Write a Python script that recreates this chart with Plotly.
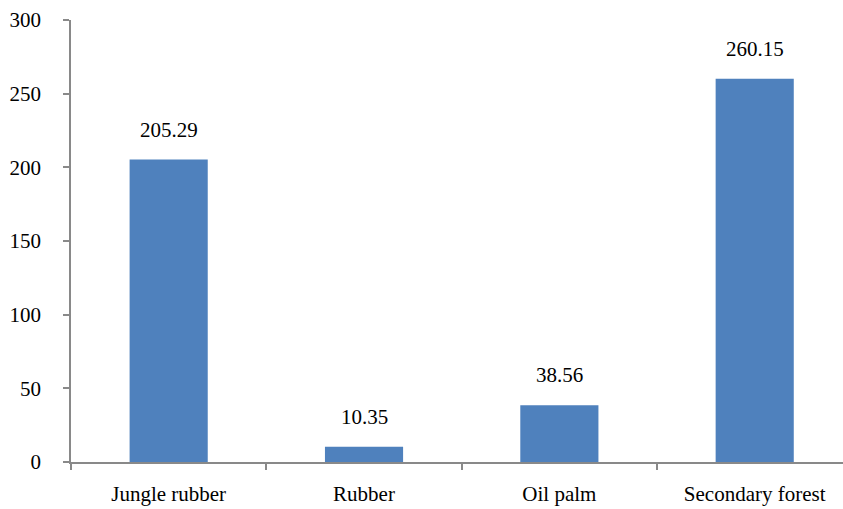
import plotly.graph_objects as go

categories = ["Jungle rubber", "Rubber", "Oil palm", "Secondary forest"]
values = [205.29, 10.35, 38.56, 260.15]
value_labels = ["205.29", "10.35", "38.56", "260.15"]
y_ticks = [0, 50, 100, 150, 200, 250, 300]

FONT = "Liberation Serif"

fig = go.Figure()
fig.add_trace(go.Bar(
    x=categories, y=values, width=0.4,
    marker=dict(color="#4F81BD", line=dict(width=0)),
    hoverinfo="skip",
))
for c, v, t in zip(categories, values, value_labels):
    fig.add_annotation(x=c, y=v, text=t, showarrow=False, yanchor="bottom",
                       yshift=16, font=dict(family=FONT, size=21, color="black"))

axis_color = "#898989"
fig.update_layout(
    width=843, height=509,
    margin=dict(l=71, r=0, t=20, b=47),
    paper_bgcolor="white", plot_bgcolor="white",
    showlegend=False,
    font=dict(family=FONT, size=21, color="black"),
    xaxis=dict(
        range=[-0.5, 3.452], showline=True, linecolor=axis_color, linewidth=1.5,
        ticks="outside", tickson="boundaries", ticklen=6, tickcolor=axis_color, tickwidth=1.5,
        showgrid=False, zeroline=False, ticklabelstandoff=12,
    ),
    yaxis=dict(
        range=[0, 300], tickvals=y_ticks, showline=True, linecolor=axis_color, linewidth=1.5,
        ticks="outside", ticklen=6, tickcolor=axis_color, tickwidth=1.5,
        showgrid=False, zeroline=False, ticklabelstandoff=18,
    ),
)
fig.write_html("out.html", config={"displayModeBar": False},
               post_script="document.body.style.margin='0';document.body.style.overflow='hidden';")
